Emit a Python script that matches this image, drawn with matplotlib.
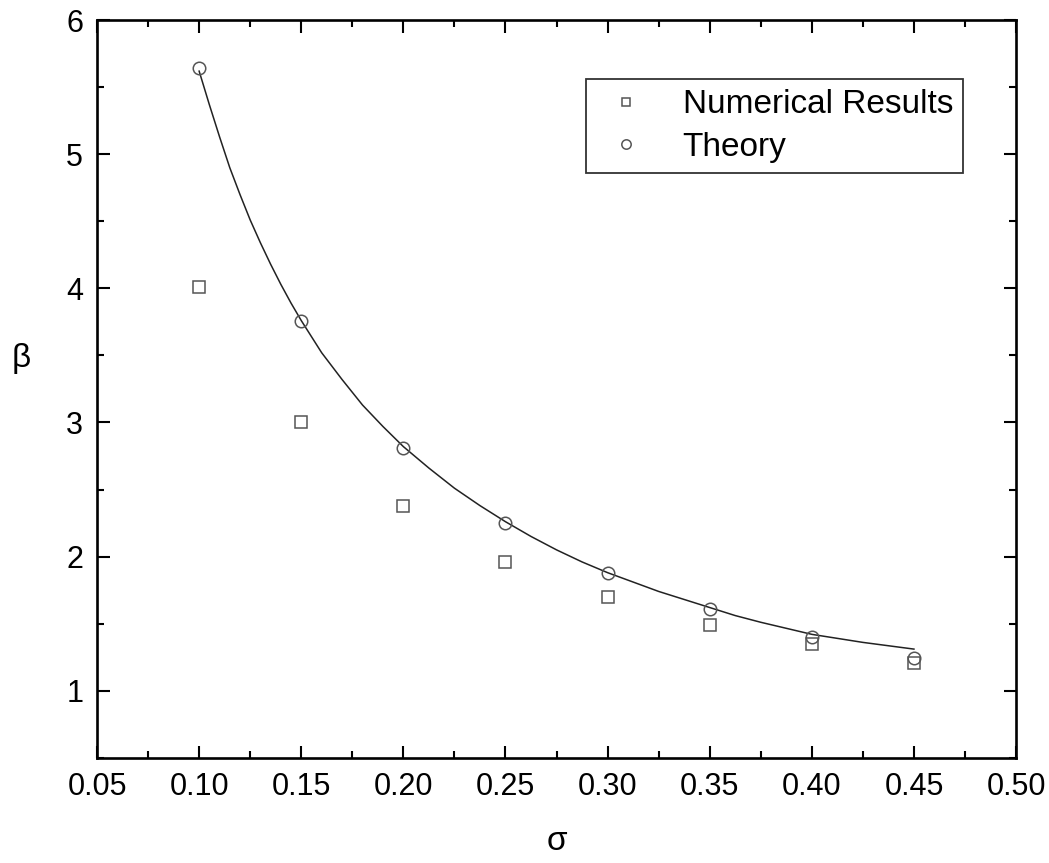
import numpy as np
import matplotlib
matplotlib.use('Agg')
import matplotlib.pyplot as plt
from matplotlib.ticker import MultipleLocator, FormatStrFormatter

plt.rcParams['font.family'] = ['Liberation Sans', 'DejaVu Sans']

# sigma values shared by both data sets
sigma = [0.10, 0.15, 0.20, 0.25, 0.30, 0.35, 0.40, 0.45]
beta_numerical = [4.01, 3.00, 2.38, 1.96, 1.70, 1.49, 1.35, 1.21]
beta_theory = [5.64, 3.76, 2.81, 2.25, 1.88, 1.61, 1.40, 1.24]

# theory curve as drawn
curve_sigma = [0.100, 0.105, 0.110, 0.115, 0.120, 0.125, 0.130, 0.135, 0.140,
               0.145, 0.150, 0.160, 0.170, 0.180, 0.190, 0.200, 0.2125, 0.225,
               0.2375, 0.250, 0.2625, 0.275, 0.2875, 0.300, 0.3125, 0.325,
               0.3375, 0.350, 0.3625, 0.375, 0.3875, 0.400, 0.4125, 0.425,
               0.4375, 0.450]
curve_beta = [5.62, 5.37, 5.13, 4.90, 4.70, 4.51, 4.34, 4.18, 4.03,
              3.89, 3.76, 3.52, 3.32, 3.13, 2.97, 2.82, 2.66, 2.51,
              2.38, 2.26, 2.15, 2.05, 1.96, 1.88, 1.81, 1.74,
              1.68, 1.62, 1.56, 1.51, 1.465, 1.42, 1.39, 1.36,
              1.335, 1.31]

fig = plt.figure(figsize=(10.49, 8.63), dpi=100)
ax = fig.add_axes([0.0925, 0.122, 0.8761, 0.8546])

mk_color = '#555555'
ax.plot(curve_sigma, curve_beta, color='#222222', lw=1.1, zorder=2,
        solid_joinstyle='round')
ax.plot(sigma, beta_numerical, ls='none', marker='s', ms=8, mfc='none',
        mec=mk_color, mew=1.1, label='Numerical Results', zorder=3)
ax.plot(sigma, beta_theory, ls='none', marker='o', ms=9, mfc='none',
        mec=mk_color, mew=1.1, label='Theory', zorder=3)

ax.set_xlim(0.05, 0.50)
ax.set_ylim(0.5, 6)
ax.xaxis.set_major_locator(MultipleLocator(0.05))
ax.xaxis.set_minor_locator(MultipleLocator(0.025))
ax.xaxis.set_major_formatter(FormatStrFormatter('%.2f'))
ax.yaxis.set_major_locator(MultipleLocator(1))
ax.yaxis.set_minor_locator(MultipleLocator(0.5))

ax.tick_params(which='both', direction='in', top=True, right=True,
               labelsize=22, width=1.5, colors='black')
ax.tick_params(which='major', length=9, pad=10)
ax.tick_params(which='minor', length=5)
for sp in ax.spines.values():
    sp.set_linewidth(1.9)

ax.set_xlabel('σ', fontsize=24)
ax.xaxis.set_label_coords(0.5, -0.093)
ax.set_ylabel('β', fontsize=24, rotation=0)
ax.yaxis.set_label_coords(-0.083, 0.52)

leg = ax.legend(loc='upper right', bbox_to_anchor=(0.9425, 0.92), fontsize=24,
                frameon=True, fancybox=False, framealpha=1, edgecolor='#333333',
                markerscale=0.75, handlelength=1.8, handletextpad=0.8,
                borderpad=0.3, labelspacing=0.35, borderaxespad=0)
leg.get_frame().set_linewidth(1.3)

fig.savefig('out.png', dpi=100)
